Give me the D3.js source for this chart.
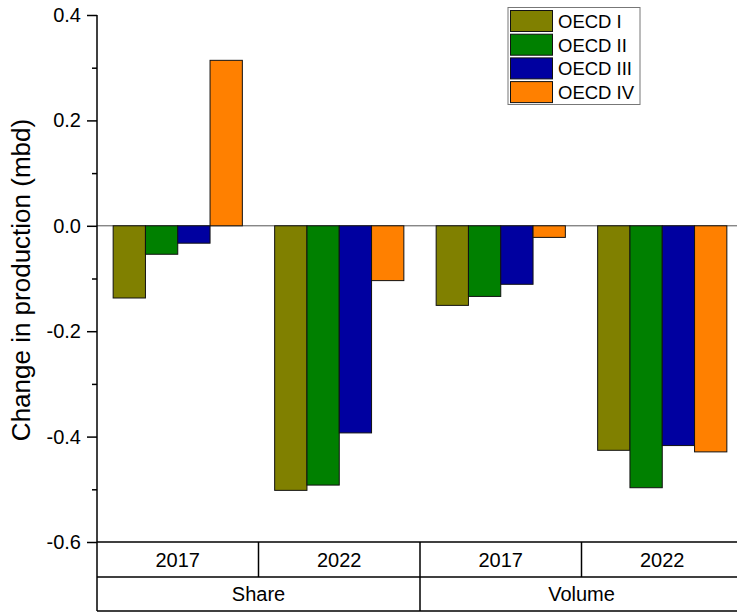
<!DOCTYPE html>
<html>
<head>
<meta charset="utf-8">
<script src="https://cdn.jsdelivr.net/npm/d3@7"></script>
<style>
html,body{margin:0;padding:0;background:#fff;}
svg{display:block;font-family:"Liberation Sans",Arial,sans-serif;}
</style>
</head>
<body>
<svg id="chart" width="737" height="615"></svg>
<script>
const groups = ["Share 2017", "Share 2022", "Volume 2017", "Volume 2022"];
const yearLabels = ["2017", "2022", "2017", "2022"];
const typeLabels = ["Share", "Volume"];
const seriesNames = ["OECD I", "OECD II", "OECD III", "OECD IV"];
const seriesColors = ["#808000", "#008000", "#0000A0", "#FF8000"];
const oecd1 = [-0.137, -0.502, -0.151, -0.426];
const oecd2 = [-0.054, -0.492, -0.134, -0.497];
const oecd3 = [-0.033, -0.393, -0.111, -0.417];
const oecd4 = [0.314, -0.104, -0.022, -0.429];
const yTicks = [-0.6, -0.4, -0.2, 0.0, 0.2, 0.4];
const yMinorTicks = [-0.5, -0.3, -0.1, 0.1, 0.3];
const seriesValues = [oecd1, oecd2, oecd3, oecd4];

(function () {
const svg = d3.select("#chart");
const pL = 97, pR = 743, pT = 15, pB = 542;
const row1 = 577, row2 = 611;

const y = d3.scaleLinear().domain([-0.6, 0.4]).range([pB, pT]);
const x0 = d3.scaleBand().domain(groups).range([pL, pR]).paddingInner(0).paddingOuter(0);
const x1 = d3.scaleBand().domain(seriesNames).range([x0.bandwidth() * 0.1, x0.bandwidth() * 0.9]).padding(0);

// zero line
svg.append("line")
  .attr("x1", pL).attr("x2", pR)
  .attr("y1", y(0)).attr("y2", y(0))
  .attr("stroke", "#555").attr("stroke-width", 1);

// bars
const g = svg.append("g");
groups.forEach((grp, gi) => {
  seriesNames.forEach((s, si) => {
    const v = seriesValues[si][gi];
    g.append("rect")
      .attr("x", x0(grp) + x1(s))
      .attr("width", x1.bandwidth())
      .attr("y", Math.min(y(v), y(0)))
      .attr("height", Math.abs(y(v) - y(0)))
      .attr("fill", seriesColors[si])
      .attr("stroke", "#111")
      .attr("stroke-width", 1);
  });
});

// y axis
const yAxis = d3.axisLeft(y).tickValues(yTicks).tickSize(10).tickPadding(6)
  .tickFormat(d => d3.format(".1f")(d).replace("\u2212", "-"));
const ya = svg.append("g").attr("transform", `translate(${pL},0)`).call(yAxis);
ya.select(".domain").remove();
ya.selectAll(".tick line").attr("stroke", "#000").attr("stroke-width", 1.5);
ya.selectAll(".tick text").attr("font-size", 20).attr("fill", "#000")
  .attr("font-family", "'Liberation Sans',Arial,sans-serif");
const yMinor = d3.axisLeft(y).tickValues(yMinorTicks).tickSize(5).tickFormat("");
const ym = svg.append("g").attr("transform", `translate(${pL},0)`).call(yMinor);
ym.select(".domain").remove();
ym.selectAll(".tick line").attr("stroke", "#000").attr("stroke-width", 1.5);

svg.append("line").attr("x1", pL).attr("x2", pL).attr("y1", pT).attr("y2", row2)
  .attr("stroke", "#000").attr("stroke-width", 1.5);

// table lines
[pB, row1, row2].forEach(yy => {
  svg.append("line").attr("x1", pL).attr("x2", pR).attr("y1", yy).attr("y2", yy)
    .attr("stroke", "#000").attr("stroke-width", 1.5);
});
groups.slice(1).forEach((grp, i) => {
  const xx = x0(grp);
  const full = (i === 1);
  svg.append("line").attr("x1", xx).attr("x2", xx).attr("y1", pB).attr("y2", full ? row2 : row1)
    .attr("stroke", "#000").attr("stroke-width", 1.5);
});

// year labels
groups.forEach((grp, i) => {
  svg.append("text")
    .attr("x", x0(grp) + x0.bandwidth() / 2)
    .attr("y", (pB + row1) / 2 + 7)
    .attr("text-anchor", "middle").attr("font-size", 20)
    .text(yearLabels[i]);
});
typeLabels.forEach((t, i) => {
  const xa = x0(groups[i * 2]);
  const xb = x0(groups[i * 2 + 1]) + x0.bandwidth();
  svg.append("text")
    .attr("x", (xa + xb) / 2)
    .attr("y", (row1 + row2) / 2 + 7)
    .attr("text-anchor", "middle").attr("font-size", 20)
    .text(t);
});

// y title
svg.append("text")
  .attr("transform", `translate(30,280) rotate(-90)`)
  .attr("text-anchor", "middle").attr("font-size", 26)
  .text("Change in production (mbd)");

// legend
const lg = svg.append("g");
lg.append("rect").attr("x", 508).attr("y", 7.5).attr("width", 132).attr("height", 97)
  .attr("fill", "#fff").attr("stroke", "#777").attr("stroke-width", 1);
seriesNames.forEach((s, i) => {
  const yy = 10.5 + i * 23.7;
  lg.append("rect").attr("x", 510.5).attr("y", yy).attr("width", 42).attr("height", 21)
    .attr("fill", seriesColors[i]).attr("stroke", "#111").attr("stroke-width", 1);
  lg.append("text").attr("x", 558).attr("y", yy + 17.5).attr("font-size", 18.5).text(s);
});
})();
</script>
</body>
</html>
